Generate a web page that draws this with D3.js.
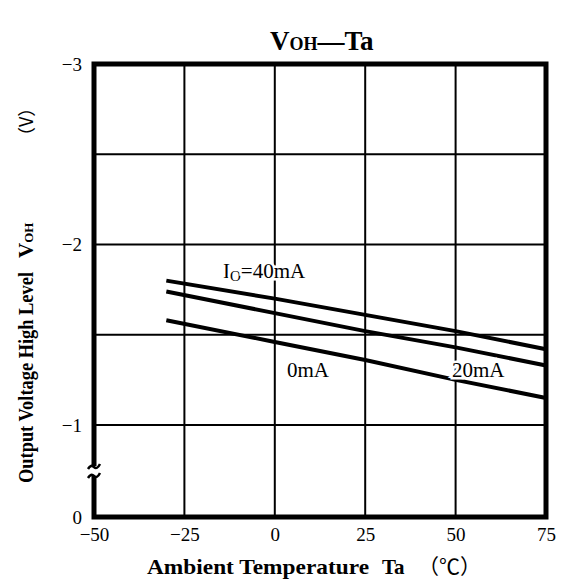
<!DOCTYPE html>
<html>
<head>
<meta charset="utf-8">
<script src="https://cdn.jsdelivr.net/npm/d3@7"></script>
<style>
  body { margin: 0; background: #fff; }
  svg text { font-family: "Liberation Serif", "Times New Roman", serif; fill: #000; }
</style>
</head>
<body>
<svg id="chart" width="571" height="588"></svg>
<script>
// temperatures (deg C) where each curve was read
var temps = [-30, 0, 25, 50, 75];
// VOH (V) per output current
var io40 = [-1.80, -1.70, -1.61, -1.52, -1.42];
var io20 = [-1.74, -1.62, -1.52, -1.43, -1.33];
var io0  = [-1.58, -1.46, -1.36, -1.25, -1.15];
var seriesNames = ["40mA", "20mA", "0mA"];

var xTicks = [-50, -25, 0, 25, 50, 75];
var yTicks = [-3, -2, -1, 0];
var xGrid = [-25, 0, 25, 50];
var yGrid = [-1, -1.5, -2, -2.5];

var svg = d3.select("#chart");

// y axis has a break between 0 and -1, so the lower part is squeezed
var x = d3.scaleLinear().domain([-50, 75]).range([94, 546]);
var y = d3.scaleLinear().domain([0, -1, -3]).range([517, 425, 64]);

var fmt = function(d) { return d < 0 ? "\u2212" + Math.abs(d) : String(d); };

// grid
svg.append("g").selectAll("line").data(xGrid).join("line")
    .attr("x1", d => x(d)).attr("x2", d => x(d))
    .attr("y1", y(-3)).attr("y2", y(0))
    .attr("stroke", "#000").attr("stroke-width", 2);
svg.append("g").selectAll("line").data(yGrid).join("line")
    .attr("x1", x(-50)).attr("x2", x(75))
    .attr("y1", d => y(d)).attr("y2", d => y(d))
    .attr("stroke", "#000").attr("stroke-width", 2);

// curves
var line = d3.line().x((d, i) => x(temps[i])).y(d => y(d));
svg.append("g").selectAll("path").data([io40, io20, io0]).join("path")
    .attr("d", line)
    .attr("fill", "none").attr("stroke", "#000").attr("stroke-width", 4);

// frame
svg.append("rect")
    .attr("x", x(-50)).attr("y", y(-3))
    .attr("width", x(75) - x(-50)).attr("height", y(0) - y(-3))
    .attr("fill", "none").attr("stroke", "#000").attr("stroke-width", 5);

// axis break on the left edge
svg.append("rect").attr("x", 88).attr("y", 466).attr("width", 12).attr("height", 10).attr("fill", "#fff");
svg.append("path")
    .attr("d", "M88,469 q3,-5 6,-2 t6,-3 M88,478 q3,-5 6,-2 t6,-3")
    .attr("fill", "none").attr("stroke", "#000").attr("stroke-width", 2.5);

// axes (labels only)
var yAxis = svg.append("g").attr("transform", "translate(" + x(-50) + ",0)")
    .call(d3.axisLeft(y).tickValues(yTicks).tickSize(0).tickPadding(12).tickFormat(fmt));
var xAxis = svg.append("g").attr("transform", "translate(0," + y(0) + ")")
    .call(d3.axisBottom(x).tickValues(xTicks).tickSize(0).tickPadding(11).tickFormat(fmt));
[yAxis, xAxis].forEach(function(g) {
    g.select(".domain").remove();
    g.selectAll("text").attr("font-size", 19).style("font-family", "'Liberation Serif', serif");
});

// curve labels
var lab = svg.append("g").attr("font-size", 21)
    .attr("stroke", "#fff").attr("stroke-width", 5).attr("paint-order", "stroke");
var t40 = lab.append("text").attr("x", 223).attr("y", 278);
t40.append("tspan").text("I");
t40.append("tspan").attr("font-size", 15).attr("dy", 3).text("O");
t40.append("tspan").attr("dy", -3).text("=40mA");
lab.append("text").attr("x", 452).attr("y", 377).text(seriesNames[1]);
lab.append("text").attr("x", 287).attr("y", 377).text(seriesNames[2]);

// title
var title = svg.append("text").attr("x", 270).attr("y", 50)
    .attr("font-size", 27).attr("font-weight", "bold");
title.append("tspan").text("V");
title.append("tspan").attr("font-size", 18).text("OH");
title.append("tspan").text("\u2014Ta");

// x axis title
var xt = svg.append("text").attr("y", 574).attr("font-size", 21).attr("font-weight", "bold");
xt.append("tspan").attr("x", 147).attr("textLength", 222).attr("lengthAdjust", "spacingAndGlyphs")
    .text("Ambient Temperature");
xt.append("tspan").attr("x", 382).text("Ta");
xt.append("tspan").attr("x", 418).attr("font-family", "'Noto Sans CJK JP', sans-serif")
    .attr("font-weight", "normal").text("\uFF08\u2103\uFF09");

// y axis title
var yt = svg.append("text").attr("transform", "translate(33,483) rotate(-90)")
    .attr("font-size", 21).attr("font-weight", "bold");
yt.append("tspan").attr("x", 0).attr("textLength", 211).attr("lengthAdjust", "spacingAndGlyphs")
    .text("Output Voltage High Level");
yt.append("tspan").attr("x", 225).text("V");
yt.append("tspan").attr("font-size", 13).text("OH");
yt.append("tspan").attr("x", 338).attr("font-family", "'Noto Sans CJK JP', sans-serif")
    .attr("font-size", 18).attr("font-weight", "normal").text("\uFF08V\uFF09");
</script>
</body>
</html>
